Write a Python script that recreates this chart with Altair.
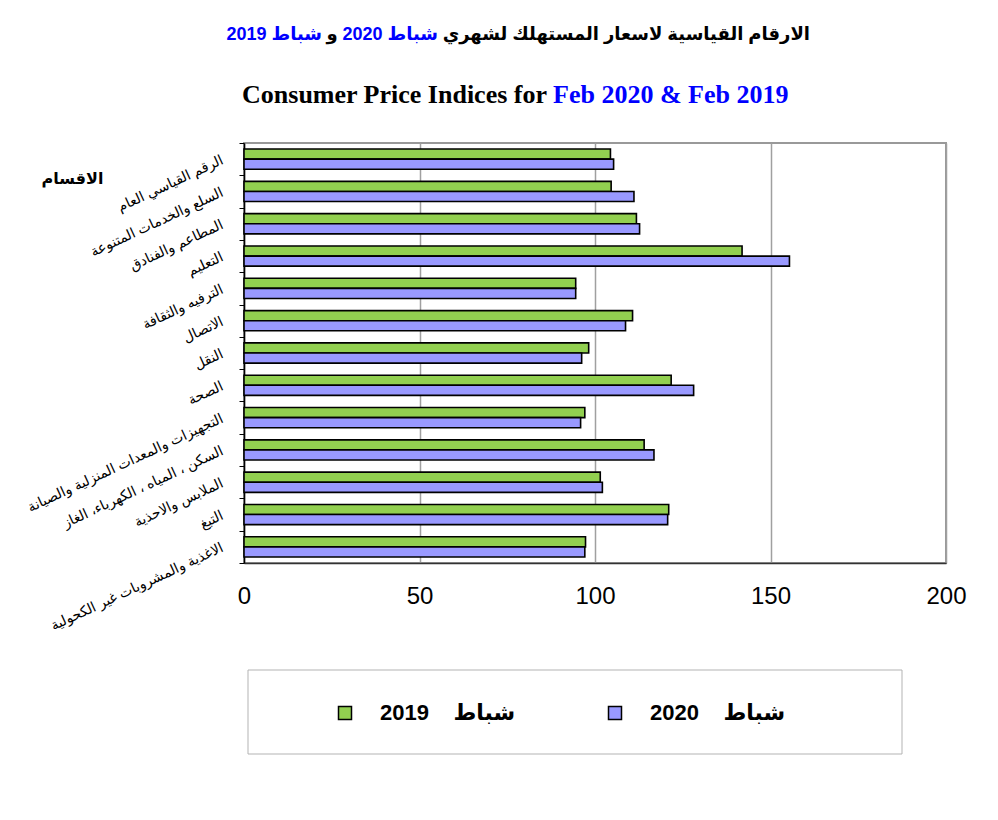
import altair as alt
import pandas as pd

categories = [
    "الرقم القياسي العام",
    "السلع والخدمات المتنوعة",
    "المطاعم والفنادق",
    "التعليم",
    "الترفيه والثقافة",
    "الاتصال",
    "النقل",
    "الصحة",
    "التجهيزات والمعدات المنزلية والصيانة",
    "السكن ، المياه ، الكهرباء، الغاز",
    "الملابس والاحذية",
    "التبغ",
    "الاغذية والمشروبات غير الكحولية",
]
values_2019 = [104.4, 104.6, 111.8, 141.9, 94.5, 110.7, 98.2, 121.7, 97.1, 114.0, 101.5, 121.0, 97.3]
values_2020 = [105.3, 111.1, 112.7, 155.4, 94.5, 108.7, 96.2, 128.1, 95.9, 116.8, 102.1, 120.7, 97.1]
series = ["2019", "2020"]
series_colors = ["#92D050", "#9999FF"]
x_ticks = [0, 50, 100, 150, 200]

title_ar_black = "الارقام القياسية لاسعار المستهلك لشهري"
title_ar_blue_2020 = "شباط 2020"
title_ar_and = "و"
title_ar_blue_2019 = "شباط 2019"
title_en_black = "Consumer Price Indices for"
title_en_blue = "Feb 2020 & Feb 2019"
axis_title = "الاقسام"
month_word = "شباط"

rows = []
for c, a, b in zip(categories, values_2019, values_2020):
    rows.append({"cat": c, "series": series[0], "value": a})
    rows.append({"cat": c, "series": series[1], "value": b})
df = pd.DataFrame(rows)

AR_FONT = "Liberation Sans, DejaVu Sans"

bars = alt.Chart(df).mark_bar(stroke="black", strokeWidth=1.6).encode(
    x=alt.X(
        "value:Q",
        scale=alt.Scale(domain=[0, 200], nice=False),
        axis=alt.Axis(
            values=x_ticks, title=None, grid=True, gridColor="#a0a0a0", gridWidth=1.5,
            domainColor="#333333", domainWidth=1.5, ticks=False, labelFlush=False,
            labelFontSize=24, labelFont="Liberation Sans", labelColor="black",
            labelPadding=21, format="d",
        ),
    ),
    y=alt.Y(
        "cat:N",
        sort=categories,
        scale=alt.Scale(paddingInner=0, paddingOuter=0),
        axis=alt.Axis(
            title=axis_title, titleAngle=0, titleX=-172, titleY=35, titleAlign="center",
            titleBaseline="middle", titleFontSize=16, titleFontWeight="bold",
            titleFont=AR_FONT, titleColor="black",
            labelAngle=335, labelAlign="right", labelBaseline="middle",
            labelFontSize=14, labelFont=AR_FONT, labelColor="black",
            labelPadding=17, labelLimit=400, tickBand="extent", tickSize=5,
            tickColor="black", domainColor="black", domainWidth=1.5, grid=False,
        ),
    ),
    yOffset=alt.YOffset("series:N", scale=alt.Scale(paddingOuter=0.6, paddingInner=0)),
    color=alt.Color(
        "series:N",
        scale=alt.Scale(domain=series, range=series_colors),
        legend=alt.Legend(
            title=None, orient="none", legendX=90, legendY=559, direction="horizontal",
            columns=2, symbolType="square", symbolSize=169, symbolStrokeColor="black",
            symbolStrokeWidth=1.5, labelFontSize=22, labelFont=AR_FONT,
            labelFontWeight="bold", labelColor="black", labelOffset=24,
            columnPadding=88, padding=0, labelLimit=400,
            labelExpr="'" + month_word + "\u00a0\u00a0\u00a0\u00a0' + datum.label",
        ),
    ),
)

one = pd.DataFrame({"k": [0]})

legend_box = alt.Chart(one).mark_rect(fill="white", stroke="#b3b3b3", strokeWidth=1).encode(
    x=alt.value(4), x2=alt.value(658), y=alt.value(527), y2=alt.value(611)
)


def label(text, x, y, color, size, font, align):
    return alt.Chart(pd.DataFrame({"t": [text]})).mark_text(
        align=align, baseline="middle", fontSize=size, font=font, fontWeight="bold", color=color
    ).encode(text="t:N", x=alt.value(x), y=alt.value(y))


t1 = label(title_ar_black, 566, -108, "black", 18, AR_FONT, "right")
t2 = label(title_ar_blue_2020, 194, -108, "#0000FF", 18, AR_FONT, "right")
t3 = label(title_ar_and, 88, -108, "black", 18, AR_FONT, "center")
t4 = label(title_ar_blue_2019, 78, -108, "#0000FF", 18, AR_FONT, "right")
t5 = label(title_en_black, 303, -48, "black", 26, "Liberation Serif", "right")
t6 = label(title_en_blue, 309, -48, "#0000FF", 26, "Liberation Serif", "left")

chart = alt.layer(legend_box, bars, t1, t2, t3, t4, t5, t6).properties(
    width=702,
    height=420,
    autosize=alt.AutoSizeParams(type="none"),
    padding={"left": 236, "top": 135, "right": 40, "bottom": 240},
    background="white",
).configure_view(stroke="#999999", strokeWidth=2)

chart.save("out.html", embed_options={"renderer": "svg", "actions": False})
